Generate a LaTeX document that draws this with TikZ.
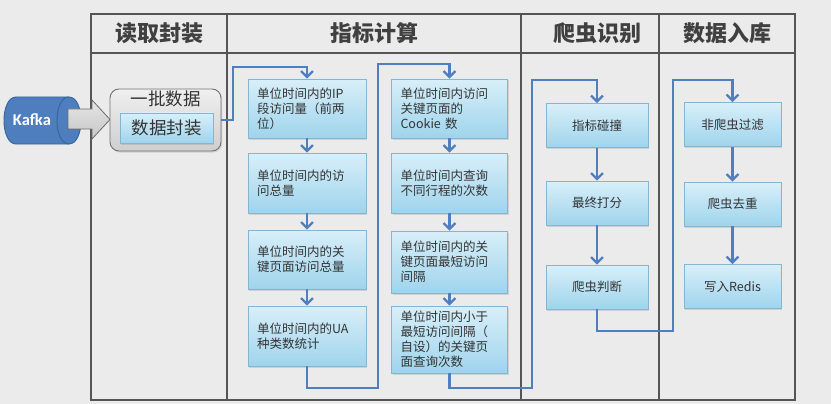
\documentclass[tikz,border=0pt]{standalone}
\usepackage{fontspec}
\setmainfont{Noto Sans CJK SC}
\newfontfamily\kaf{Carlito}
\usetikzlibrary{arrows.meta,shadows}
\definecolor{bg}{HTML}{EBEBEB}
\definecolor{tline}{HTML}{555555}
\definecolor{conn}{HTML}{4F7FBF}
\definecolor{boxt}{HTML}{D8EFF9}
\definecolor{boxb}{HTML}{9FD4EC}
\definecolor{boxd}{HTML}{86B5D2}
\definecolor{txt}{HTML}{333333}
\definecolor{head}{HTML}{404040}
\definecolor{kaf}{HTML}{4E7EBD}
\definecolor{kafd}{HTML}{35659C}
\tikzset{
  bx/.style={draw=boxd, line width=0.8pt, top color=boxt, bottom color=boxb,
    drop shadow={opacity=0.25, shadow xshift=1.2pt, shadow yshift=-1.5pt},
    inner sep=0pt, text=txt, font=\fontsize{12.5}{15}\selectfont},
  lbox/.style={bx, align=left, inner xsep=9pt, text width=#1},
  cbox/.style={bx, align=center, minimum width=#1, minimum height=44pt},
  hd/.style={font=\fontsize{22}{24}\selectfont\bfseries, text=head},
  conn/.style={draw=conn, line width=2.3pt, -{Straight Barb[length=6pt,width=12pt,line width=2.2pt]}},
  tl/.style={draw=tline, line width=1.4pt}
}
\begin{document}
\begin{tikzpicture}[x=1pt,y=-1pt]
\useasboundingbox (0,0) rectangle (831,404);
\fill[bg] (0,0) rectangle (831,404);
% table
\draw[tl] (91,14) rectangle (795,400);
\draw[tl] (91,53) -- (795,53);
\draw[tl] (227,14) -- (227,400);
\draw[tl] (521,14) -- (521,400);
\draw[tl] (659,14) -- (659,400);
\node[hd] (h1) at (159,33) {读取封装};
\node[hd] (h2) at (374,33) {指标计算};
\node[hd] (h3) at (597,33) {爬虫识别};
\node[hd] (h4) at (727,33) {数据入库};
% kafka cylinder
\draw[fill=kaf, draw=kafd, line width=0.9pt] (16,97) -- (69,97) .. controls (85,97) and (85,144) .. (69,144) -- (16,144) .. controls (0,144) and (0,97) .. (16,97) -- cycle;
\draw[draw=kafd, line width=0.9pt] (69,97) .. controls (53,97) and (53,144) .. (69,144);
\node[font=\kaf\fontsize{16.5}{17}\selectfont\bfseries, text=white] (kafka) at (32,120) {Kafka};
% block arrow
\draw[draw=gray!85!black, line width=0.8pt, top color=gray!20, bottom color=gray!45] (68,109) -- (92,109) -- (92,100) -- (110,119.5) -- (92,139) -- (92,129) -- (68,129) -- cycle;
% group box
\node[draw=gray!90!black, line width=0.9pt, rounded corners=9pt, top color=gray!12, bottom color=gray!38,
  drop shadow={opacity=0.25, shadow xshift=1.2pt, shadow yshift=-1.5pt},
  minimum width=111pt, minimum height=62pt, inner sep=0pt] (grp) at (165.5,120) {};
\node[font=\fontsize{17.5}{18}\selectfont, text=txt] (pi) at (165.5,99) {一批数据};
\node[bx, minimum width=93pt, minimum height=30pt, font=\fontsize{17.5}{18}\selectfont] (feng) at (166.5,128) {数据封装};
% column 1
\node[lbox=100pt, minimum height=59pt] (a1) at (307,108.5) {单位时间内的IP\\段访问量（前两\\位）};
\node[lbox=100pt, minimum height=60pt] (a2) at (307,183) {单位时间内的访\\问总量};
\node[lbox=100pt, minimum height=59pt] (a3) at (307,259.5) {单位时间内的关\\键页面访问总量};
\node[lbox=100pt, minimum height=60pt] (a4) at (307,336) {单位时间内的UA\\种类数统计};
% column 2
\node[lbox=98pt, minimum height=59pt] (b1) at (449.5,108.5) {单位时间内访问\\关键页面的\\Cookie 数};
\node[lbox=98pt, minimum height=60pt] (b2) at (449.5,183) {单位时间内查询\\不同行程的次数};
\node[lbox=98pt, minimum height=62pt] (b3) at (449.5,262) {单位时间内的关\\键页面最短访问\\间隔};
\node[lbox=98pt, minimum height=67pt] (b4) at (449.5,339.5) {单位时间内小于\\最短访问间隔（\\自设）的关键页\\面查询次数};
% column 3
\node[cbox=102pt] (c1) at (597,125.5) {指标碰撞};
\node[cbox=102pt] (c2) at (597,203) {最终打分};
\node[cbox=102pt] (c3) at (597,287) {爬虫判断};
% column 4
\node[cbox=97pt] (d1) at (732.5,124.5) {非爬虫过滤};
\node[cbox=97pt] (d2) at (732.5,204) {爬虫去重};
\node[cbox=97pt] (d3) at (732.5,286.5) {写入Redis};
% connectors
\draw[conn] (grp.east) -| (233,67) -| (a1.north);
\draw[conn] (a1) -- (a2);
\draw[conn] (a2) -- (a3);
\draw[conn] (a3) -- (a4);
\draw[conn] (a4.south) -- (307,388) -| (378,64) -| (b1.north);
\draw[conn] (b1) -- (b2);
\draw[conn] (b2) -- (b3);
\draw[conn] (b3) -- (b4);
\draw[conn] (b4.south) -- (449.5,388) -| (532,80) -| (c1.north);
\draw[conn] (c1) -- (c2);
\draw[conn] (c2) -- (c3);
\draw[conn] (c3.south) -- (597,331) -| (673,80) -| (d1.north);
\draw[conn] (d1) -- (d2);
\draw[conn] (d2) -- (d3);
\end{tikzpicture}
\end{document}
